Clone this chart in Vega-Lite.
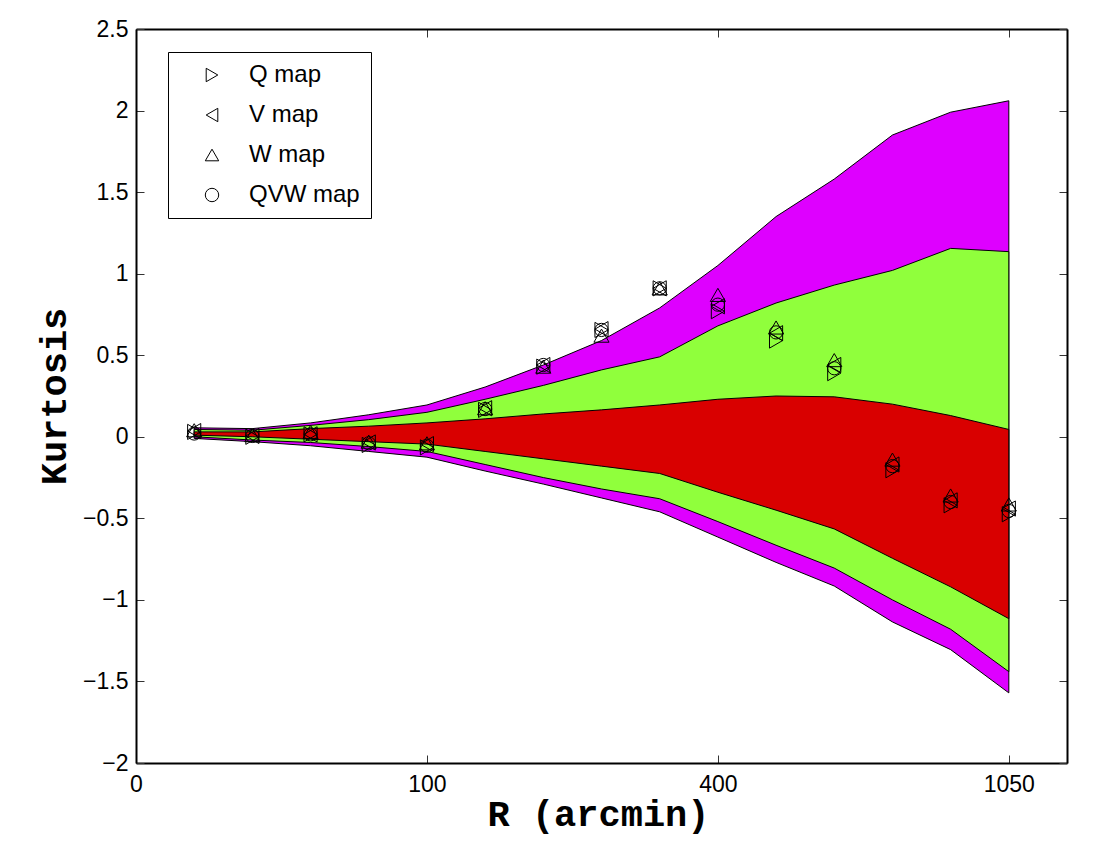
{
  "$schema": "https://vega.github.io/schema/vega-lite/v6.json",
  "description": "Kurtosis against radius for Q, V, W and QVW maps with three nested confidence bands.",
  "width": 931,
  "height": 734,
  "autosize": {"type": "none"},
  "padding": {"left": 136, "top": 29, "right": 41, "bottom": 99},
  "background": "white",
  "config": {
    "view": {"stroke": null},
    "axis": {
      "grid": false,
      "labelFont": "Liberation Sans",
      "labelFontSize": 23,
      "labelColor": "black",
      "labelFlush": false,
      "labelOverlap": false,
      "titleFont": "Liberation Mono",
      "titleFontWeight": "bold",
      "titleFontSize": 37,
      "titleColor": "black",
      "domainColor": "black",
      "domainWidth": 2,
      "tickColor": "#333333",
      "tickWidth": 1,
      "tickSize": -8,
      "labelPadding": 16
    }
  },
  "datasets": {
    "bands": [
      {"bin": 1, "band": "outer", "lo": -0.01, "hi": 0.055},
      {"bin": 2, "band": "outer", "lo": -0.03, "hi": 0.05},
      {"bin": 3, "band": "outer", "lo": -0.055, "hi": 0.085},
      {"bin": 4, "band": "outer", "lo": -0.09, "hi": 0.135},
      {"bin": 5, "band": "outer", "lo": -0.125, "hi": 0.195},
      {"bin": 6, "band": "outer", "lo": -0.21, "hi": 0.305},
      {"bin": 7, "band": "outer", "lo": -0.29, "hi": 0.44},
      {"bin": 8, "band": "outer", "lo": -0.375, "hi": 0.59},
      {"bin": 9, "band": "outer", "lo": -0.46, "hi": 0.79},
      {"bin": 10, "band": "outer", "lo": -0.615, "hi": 1.05},
      {"bin": 11, "band": "outer", "lo": -0.77, "hi": 1.35},
      {"bin": 12, "band": "outer", "lo": -0.915, "hi": 1.58},
      {"bin": 13, "band": "outer", "lo": -1.135, "hi": 1.85},
      {"bin": 14, "band": "outer", "lo": -1.305, "hi": 1.99},
      {"bin": 15, "band": "outer", "lo": -1.57, "hi": 2.06},
      {"bin": 1, "band": "middle", "lo": 0, "hi": 0.045},
      {"bin": 2, "band": "middle", "lo": -0.02, "hi": 0.04},
      {"bin": 3, "band": "middle", "lo": -0.035, "hi": 0.07},
      {"bin": 4, "band": "middle", "lo": -0.06, "hi": 0.105},
      {"bin": 5, "band": "middle", "lo": -0.09, "hi": 0.15},
      {"bin": 6, "band": "middle", "lo": -0.17, "hi": 0.23},
      {"bin": 7, "band": "middle", "lo": -0.25, "hi": 0.315},
      {"bin": 8, "band": "middle", "lo": -0.32, "hi": 0.41},
      {"bin": 9, "band": "middle", "lo": -0.38, "hi": 0.49},
      {"bin": 10, "band": "middle", "lo": -0.52, "hi": 0.68},
      {"bin": 11, "band": "middle", "lo": -0.665, "hi": 0.82},
      {"bin": 12, "band": "middle", "lo": -0.805, "hi": 0.93},
      {"bin": 13, "band": "middle", "lo": -1.0, "hi": 1.02},
      {"bin": 14, "band": "middle", "lo": -1.18, "hi": 1.155},
      {"bin": 15, "band": "middle", "lo": -1.44, "hi": 1.135},
      {"bin": 1, "band": "inner", "lo": 0.01, "hi": 0.03},
      {"bin": 2, "band": "inner", "lo": 0, "hi": 0.03},
      {"bin": 3, "band": "inner", "lo": -0.015, "hi": 0.05},
      {"bin": 4, "band": "inner", "lo": -0.03, "hi": 0.065},
      {"bin": 5, "band": "inner", "lo": -0.045, "hi": 0.085},
      {"bin": 6, "band": "inner", "lo": -0.09, "hi": 0.11},
      {"bin": 7, "band": "inner", "lo": -0.135, "hi": 0.14},
      {"bin": 8, "band": "inner", "lo": -0.18, "hi": 0.165},
      {"bin": 9, "band": "inner", "lo": -0.225, "hi": 0.195},
      {"bin": 10, "band": "inner", "lo": -0.34, "hi": 0.23},
      {"bin": 11, "band": "inner", "lo": -0.45, "hi": 0.25},
      {"bin": 12, "band": "inner", "lo": -0.565, "hi": 0.245},
      {"bin": 13, "band": "inner", "lo": -0.745, "hi": 0.2},
      {"bin": 14, "band": "inner", "lo": -0.92, "hi": 0.13},
      {"bin": 15, "band": "inner", "lo": -1.115, "hi": 0.045}
    ],
    "maps": [
      {"bin": 1, "map": "Q map", "kurtosis": 0.03},
      {"bin": 2, "map": "Q map", "kurtosis": 0.0},
      {"bin": 3, "map": "Q map", "kurtosis": 0.015},
      {"bin": 4, "map": "Q map", "kurtosis": -0.05},
      {"bin": 5, "map": "Q map", "kurtosis": -0.065},
      {"bin": 6, "map": "Q map", "kurtosis": 0.165},
      {"bin": 7, "map": "Q map", "kurtosis": 0.43},
      {"bin": 8, "map": "Q map", "kurtosis": 0.655},
      {"bin": 9, "map": "Q map", "kurtosis": 0.91},
      {"bin": 10, "map": "Q map", "kurtosis": 0.77},
      {"bin": 11, "map": "Q map", "kurtosis": 0.59},
      {"bin": 12, "map": "Q map", "kurtosis": 0.39},
      {"bin": 13, "map": "Q map", "kurtosis": -0.205},
      {"bin": 14, "map": "Q map", "kurtosis": -0.42},
      {"bin": 15, "map": "Q map", "kurtosis": -0.475},
      {"bin": 1, "map": "V map", "kurtosis": 0.035},
      {"bin": 2, "map": "V map", "kurtosis": 0.005},
      {"bin": 3, "map": "V map", "kurtosis": 0.015},
      {"bin": 4, "map": "V map", "kurtosis": -0.035},
      {"bin": 5, "map": "V map", "kurtosis": -0.045},
      {"bin": 6, "map": "V map", "kurtosis": 0.175},
      {"bin": 7, "map": "V map", "kurtosis": 0.44},
      {"bin": 8, "map": "V map", "kurtosis": 0.66},
      {"bin": 9, "map": "V map", "kurtosis": 0.91},
      {"bin": 10, "map": "V map", "kurtosis": 0.8},
      {"bin": 11, "map": "V map", "kurtosis": 0.635},
      {"bin": 12, "map": "V map", "kurtosis": 0.44},
      {"bin": 13, "map": "V map", "kurtosis": -0.17},
      {"bin": 14, "map": "V map", "kurtosis": -0.39},
      {"bin": 15, "map": "V map", "kurtosis": -0.44},
      {"bin": 1, "map": "W map", "kurtosis": 0.04},
      {"bin": 2, "map": "W map", "kurtosis": 0.01},
      {"bin": 3, "map": "W map", "kurtosis": 0.03},
      {"bin": 4, "map": "W map", "kurtosis": -0.03},
      {"bin": 5, "map": "W map", "kurtosis": -0.04},
      {"bin": 6, "map": "W map", "kurtosis": 0.175},
      {"bin": 7, "map": "W map", "kurtosis": 0.43},
      {"bin": 8, "map": "W map", "kurtosis": 0.62},
      {"bin": 9, "map": "W map", "kurtosis": 0.91},
      {"bin": 10, "map": "W map", "kurtosis": 0.87},
      {"bin": 11, "map": "W map", "kurtosis": 0.67},
      {"bin": 12, "map": "W map", "kurtosis": 0.47},
      {"bin": 13, "map": "W map", "kurtosis": -0.14},
      {"bin": 14, "map": "W map", "kurtosis": -0.36},
      {"bin": 15, "map": "W map", "kurtosis": -0.415},
      {"bin": 1, "map": "QVW map", "kurtosis": 0.02},
      {"bin": 2, "map": "QVW map", "kurtosis": 0.005},
      {"bin": 3, "map": "QVW map", "kurtosis": 0.015},
      {"bin": 4, "map": "QVW map", "kurtosis": -0.04},
      {"bin": 5, "map": "QVW map", "kurtosis": -0.055},
      {"bin": 6, "map": "QVW map", "kurtosis": 0.17},
      {"bin": 7, "map": "QVW map", "kurtosis": 0.44},
      {"bin": 8, "map": "QVW map", "kurtosis": 0.655},
      {"bin": 9, "map": "QVW map", "kurtosis": 0.91},
      {"bin": 10, "map": "QVW map", "kurtosis": 0.81},
      {"bin": 11, "map": "QVW map", "kurtosis": 0.64},
      {"bin": 12, "map": "QVW map", "kurtosis": 0.42},
      {"bin": 13, "map": "QVW map", "kurtosis": -0.18},
      {"bin": 14, "map": "QVW map", "kurtosis": -0.4},
      {"bin": 15, "map": "QVW map", "kurtosis": -0.455}
    ]
  },
  "layer": [
    {
      "data": {"name": "bands"},
      "mark": {"type": "area", "orient": "vertical", "stroke": "black", "strokeWidth": 1},
      "encoding": {
        "x": {
          "field": "bin",
          "type": "quantitative",
          "scale": {"domain": [0, 16], "nice": false, "zero": false},
          "axis": {
            "orient": "bottom",
            "title": "R (arcmin)",
            "values": [0, 5, 10, 15],
            "labelExpr": "datum.value == 5 ? '100' : datum.value == 10 ? '400' : datum.value == 15 ? '1050' : '0'",
            "labelPadding": 18,
            "titlePadding": 0,
            "titleX": 462
          }
        },
        "y": {
          "field": "lo",
          "type": "quantitative",
          "scale": {"domain": [-2, 2.5], "nice": false, "zero": false},
          "axis": {
            "orient": "left",
            "title": "Kurtosis",
            "values": [-2, -1.5, -1, -0.5, 0, 0.5, 1, 1.5, 2, 2.5],
            "format": "~g",
            "titlePadding": 9
          }
        },
        "y2": {"field": "hi"},
        "fill": {
          "field": "band",
          "type": "nominal",
          "scale": {"domain": ["outer", "middle", "inner"], "range": ["#de00ff", "#90ff3c", "#d90000"]},
          "legend": null
        }
      }
    },
    {
      "data": {"name": "maps"},
      "transform": [{"filter": "datum.map != 'QVW map'"}],
      "mark": {"type": "point", "filled": false, "stroke": "black", "strokeWidth": 1, "opacity": 1, "size": 230},
      "encoding": {
        "x": {
          "field": "bin",
          "type": "quantitative",
          "scale": {"domain": [0, 16], "nice": false, "zero": false},
          "axis": {"orient": "top", "title": null, "labels": false, "values": [0, 5, 10, 15]}
        },
        "y": {
          "field": "kurtosis",
          "type": "quantitative",
          "scale": {"domain": [-2, 2.5], "nice": false, "zero": false},
          "axis": {"orient": "right", "title": null, "labels": false, "values": [-2, -1.5, -1, -0.5, 0, 0.5, 1, 1.5, 2, 2.5]}
        },
        "shape": {
          "field": "map",
          "type": "nominal",
          "scale": {
            "domain": ["Q map", "V map", "W map", "QVW map"],
            "range": ["triangle-right", "triangle-left", "triangle-up", "circle"]
          },
          "legend": {
            "title": null,
            "orient": "none",
            "legendX": 32,
            "legendY": 23,
            "fillColor": "white",
            "strokeColor": "black",
            "padding": 11,
            "symbolOffset": 21,
            "labelOffset": 25,
            "rowPadding": 16,
            "labelFont": "Liberation Sans",
            "labelFontSize": 24,
            "labelColor": "black",
            "symbolStrokeColor": "black",
            "symbolStrokeWidth": 1,
            "symbolSize": 180
          }
        }
      }
    },
    {
      "data": {"name": "maps"},
      "transform": [{"filter": "datum.map == 'QVW map'"}],
      "mark": {"type": "point", "filled": false, "stroke": "black", "strokeWidth": 1, "opacity": 1, "size": 175},
      "encoding": {
        "x": {"field": "bin", "type": "quantitative", "axis": null},
        "y": {"field": "kurtosis", "type": "quantitative", "axis": null},
        "shape": {"field": "map", "type": "nominal"}
      }
    }
  ],
  "resolve": {"axis": {"x": "independent", "y": "independent"}}
}
